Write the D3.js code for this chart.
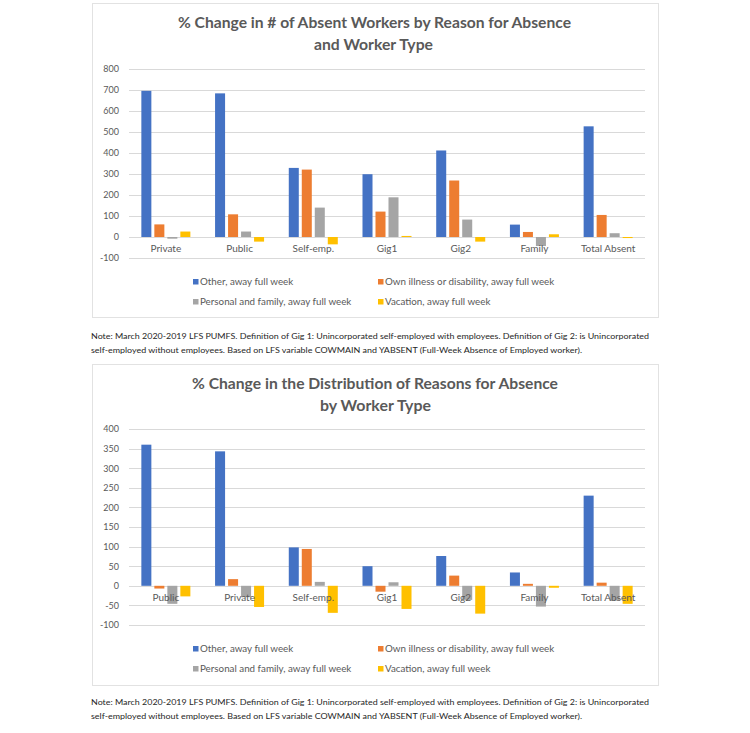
<!DOCTYPE html>
<html>
<head>
<meta charset="utf-8">
<script src="https://cdn.jsdelivr.net/npm/d3@7"></script>
<style>
  html, body { margin: 0; padding: 0; background: #fff; }
  text { font-family: Lato, "Open Sans", sans-serif; }
</style>
</head>
<body>
<div id="root"></div>
<script>
const width = 750;
const height = 733;

// series shared by both charts
const seriesNames = [
    'Other, away full week',
    'Own illness or disability, away full week',
    'Personal and family, away full week',
    'Vacation, away full week'
];
const seriesColors = ['#4472C4', '#ED7D31', '#A5A5A5', '#FFC000'];

// chart 1: % change in # of absent workers
const categoriesTop = ['Private', 'Public', 'Self-emp.', 'Gig1', 'Gig2', 'Family', 'Total Absent'];
const otherTop = [696, 684, 329, 299, 412, 59, 527];
const illnessTop = [60, 108, 321, 121, 269, 24, 105];
const personalTop = [-8, 26, 140, 189, 83, -43, 18];
const vacationTop = [26, -22, -35, 5, -22, 13, -5];
const ticksTop = [-100, 0, 100, 200, 300, 400, 500, 600, 700, 800];

// chart 2: % change in distribution of reasons
const categoriesBottom = ['Public', 'Private', 'Self-emp.', 'Gig1', 'Gig2', 'Family', 'Total Absent'];
const otherBottom = [360, 343, 98, 50, 76, 34, 230];
const illnessBottom = [-7, 17, 94, -15, 26, 5, 8];
const personalBottom = [-46, -29, 10, 9, -36, -53, -38];
const vacationBottom = [-27, -54, -69, -59, -71, -5, -46];
const ticksBottom = [-100, -50, 0, 50, 100, 150, 200, 250, 300, 350, 400];

const noteLines = [
    'Note: March 2020-2019 LFS PUMFS. Definition of Gig 1: Unincorporated self-employed with employees. Definition of Gig 2: is Unincorporated',
    'self-employed without employees. Based on LFS variable COWMAIN and YABSENT (Full-Week Absence of Employed worker).'
];

const svg = d3.select('#root')
    .append('svg')
    .attr('width', width)
    .attr('height', height);

// squeeze a text to a given width
const fit = (sel, w) => sel.attr('textLength', w).attr('lengthAdjust', 'spacingAndGlyphs');

function drawChart(cfg) {
    const g = svg.append('g');

    g.append('rect')
        .attr('x', 92.5).attr('y', cfg.frameTop + 0.5)
        .attr('width', 566).attr('height', cfg.frameHeight)
        .attr('fill', '#fff')
        .attr('stroke', '#e2e2e2');

    cfg.title.forEach((t, i) => {
        g.append('text')
            .attr('x', cfg.titleX[i]).attr('y', cfg.titleY[i])
            .attr('fill', '#595959')
            .attr('font-size', 15.5)
            .attr('font-weight', 700)
            .text(t)
            .call(fit, cfg.titleW[i]);
    });

    const y = d3.scaleLinear()
        .domain(cfg.domain)
        .range(cfg.yRange);

    const x0 = d3.scaleBand()
        .domain(cfg.categories)
        .range([129, 645]);

    const x1 = d3.scaleBand()
        .domain(seriesNames)
        .range([0, x0.bandwidth()])
        .paddingInner(0.23)
        .paddingOuter(0.95);

    // gridlines + tick labels
    g.append('g')
        .selectAll('line')
        .data(cfg.ticks)
        .join('line')
        .attr('x1', 129).attr('x2', 645)
        .attr('y1', d => Math.round(y(d)) + 0.5)
        .attr('y2', d => Math.round(y(d)) + 0.5)
        .attr('stroke', '#d9d9d9');

    g.append('g')
        .selectAll('text')
        .data(cfg.ticks)
        .join('text')
        .attr('x', 119)
        .attr('y', d => y(d) + 3.3)
        .attr('text-anchor', 'end')
        .attr('font-size', 9)
        .attr('fill', '#595959')
        .text(d => d < 0 ? '-' + Math.abs(d) : d);

    // bars
    const rows = cfg.categories.map((c, i) => ({
        cat: c,
        vals: cfg.series.map((s, j) => ({ name: seriesNames[j], v: s[i], color: seriesColors[j] }))
    }));

    g.append('g')
        .selectAll('g')
        .data(rows)
        .join('g')
        .attr('transform', d => `translate(${x0(d.cat)},0)`)
        .selectAll('rect')
        .data(d => d.vals)
        .join('rect')
        .attr('x', d => x1(d.name))
        .attr('width', x1.bandwidth())
        .attr('y', d => y(Math.max(0, d.v)))
        .attr('height', d => Math.abs(y(d.v) - y(0)))
        .attr('fill', d => d.color);

    // category labels sit just under the zero line, on top of the bars
    g.append('g')
        .selectAll('text')
        .data(cfg.categories)
        .join('text')
        .attr('x', d => x0(d) + x0.bandwidth() / 2)
        .attr('y', y(0) + 15)
        .attr('text-anchor', 'middle')
        .attr('font-size', 10)
        .attr('fill', '#595959')
        .text(d => d);

    // legend, 2 x 2
    const legend = g.append('g')
        .selectAll('g')
        .data(seriesNames)
        .join('g')
        .attr('transform', (d, i) => `translate(${i % 2 ? 378 : 193},${cfg.legendY + Math.floor(i / 2) * 20})`);
    legend.append('rect')
        .attr('x', 0).attr('y', -6)
        .attr('width', 5.5).attr('height', 5.5)
        .attr('fill', (d, i) => seriesColors[i]);
    legend.append('text')
        .attr('x', 7).attr('y', 0)
        .attr('font-size', 9.8)
        .attr('fill', '#595959')
        .text(d => d);

    // note under the frame
    noteLines.forEach((t, i) => {
        g.append('text')
            .attr('x', 91).attr('y', cfg.noteY + i * 13.5)
            .attr('font-size', 7.8)
            .attr('fill', '#262626')
            .text(t)
            .call(fit, i ? 491 : 558);
    });
}

drawChart({
    frameTop: 3,
    frameHeight: 314,
    title: ['% Change in # of Absent Workers by Reason for Absence', 'and Worker Type'],
    titleX: [178, 314],
    titleY: [28, 50],
    titleW: [393, 119],
    domain: [-100, 800],
    yRange: [258, 69],
    ticks: ticksTop,
    categories: categoriesTop,
    series: [otherTop, illnessTop, personalTop, vacationTop],
    legendY: 285,
    noteY: 339
});

drawChart({
    frameTop: 364,
    frameHeight: 321,
    title: ['% Change in the Distribution of Reasons for Absence', 'by Worker Type'],
    titleX: [192, 320],
    titleY: [389, 411],
    titleW: [366, 111],
    domain: [-100, 400],
    yRange: [625, 429],
    ticks: ticksBottom,
    categories: categoriesBottom,
    series: [otherBottom, illnessBottom, personalBottom, vacationBottom],
    legendY: 652,
    noteY: 705
});
</script>
</body>
</html>
